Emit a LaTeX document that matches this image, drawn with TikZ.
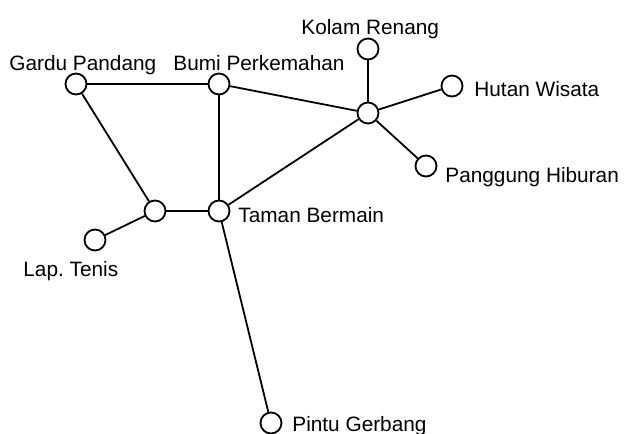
\documentclass[tikz,border=0pt]{standalone}
\usepackage{fontspec}
\setmainfont{Liberation Sans}
\begin{document}
\begin{tikzpicture}[x=0.5pt,y=-0.5pt,
  vtx/.style={circle,draw,line width=0.9pt,minimum size=10.5pt,inner sep=0pt,fill=white},
  lbl/.style={anchor=base west,inner sep=0pt,font=\fontsize{10.4pt}{12pt}\selectfont},
  edge/.style={line width=0.9pt}]
\useasboundingbox (0,0) rectangle (624,433);
\node[vtx] (gardu) at (76,84) {};
\node[vtx] (bumi) at (219,84) {};
\node[vtx] (hub) at (368,113) {};
\node[vtx] (kolam) at (368,49) {};
\node[vtx] (hutan) at (452,86) {};
\node[vtx] (panggung) at (426,166) {};
\node[vtx] (taman) at (219,211) {};
\node[vtx] (junc) at (155,211) {};
\node[vtx] (tenis) at (95,240) {};
\node[vtx] (pintu) at (271,423) {};
\draw[edge] (gardu) -- (bumi);
\draw[edge] (gardu) -- (junc);
\draw[edge] (bumi) -- (taman);
\draw[edge] (bumi) -- (hub);
\draw[edge] (hub) -- (kolam);
\draw[edge] (hub) -- (hutan);
\draw[edge] (hub) -- (panggung);
\draw[edge] (hub) -- (taman);
\draw[edge] (junc) -- (taman);
\draw[edge] (junc) -- (tenis);
\draw[edge] (taman) -- (pintu);
\node[lbl] (lgardu) at (9,70) {Gardu Pandang};
\node[lbl] (lbumi) at (173,70) {Bumi Perkemahan};
\node[lbl] (lkolam) at (301,35) {Kolam Renang};
\node[lbl] (lhutan) at (474,97) {Hutan Wisata};
\node[lbl] (lpanggung) at (445,182) {Panggung Hiburan};
\node[lbl] (ltaman) at (238,222) {Taman Bermain};
\node[lbl] (ltenis) at (23,276) {Lap.\ Tenis};
\node[lbl] (lpintu) at (292,431) {Pintu Gerbang};
\end{tikzpicture}
\end{document}
